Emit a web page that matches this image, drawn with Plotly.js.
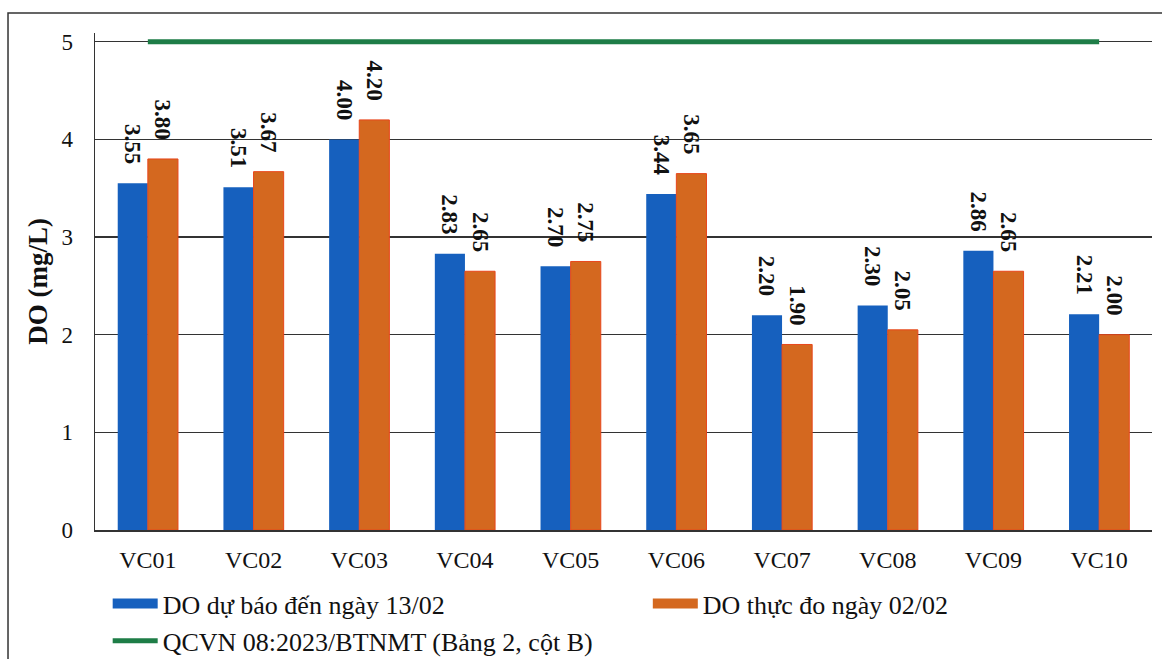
<!DOCTYPE html>
<html><head><meta charset="utf-8">
<script src="https://cdn.plot.ly/plotly-3.0.1.min.js"></script>
<style>html,body{margin:0;padding:0;background:#fff;}#chart{width:1162px;height:659px;}</style>
</head><body><div id="chart"></div>
<script>
var categories = ['VC01','VC02','VC03','VC04','VC05','VC06','VC07','VC08','VC09','VC10'];
var doForecast = [3.55,3.51,4.00,2.83,2.70,3.44,2.20,2.30,2.86,2.21];
var doMeasured = [3.80,3.67,4.20,2.65,2.75,3.65,1.90,2.05,2.65,2.00];
var standardValue = [5,5,5,5,5,5,5,5,5,5];
var names = ['DO dự báo đến ngày 13/02','DO thực đo ngày 02/02','QCVN 08:2023/BTNMT (Bảng 2, cột B)'];
var yTicks = [0,1,2,3,4,5];

var serif = 'Liberation Serif, DejaVu Serif, serif';
var blue = '#1660BE', orange = '#D4681F', orangeEdge = '#E8461B', green = '#1E7D47';
var pad = '\u00A0\u00A0\u2009';
var labelFont = {family:serif, size:23, color:'#111', weight:'bold'};

var traces = [
  {type:'bar', x:categories, y:doForecast, name:names[0], showlegend:false,
   marker:{color:blue, line:{width:0}},
   text:doForecast.map(function(v){return v.toFixed(2)+pad;}), textposition:'outside', textangle:90,
   constraintext:'none', textfont:labelFont, cliponaxis:false},
  {type:'bar', x:categories, y:doMeasured, name:names[1], showlegend:false,
   marker:{color:orange, line:{width:1, color:orangeEdge}},
   text:doMeasured.map(function(v){return v.toFixed(2)+pad;}), textposition:'outside', textangle:90,
   constraintext:'none', textfont:labelFont, cliponaxis:false},
  {type:'scatter', mode:'lines', x:categories, y:standardValue, name:names[2], showlegend:false,
   line:{color:green, width:5}},
  // legend proxies
  {type:'scatter', mode:'lines', x:[null], y:[null], name:names[0], line:{color:blue, width:10}, legend:'legend'},
  {type:'scatter', mode:'lines', x:[null], y:[null], name:names[1], line:{color:orange, width:10}, legend:'legend2'},
  {type:'scatter', mode:'lines', x:[null], y:[null], name:names[2], line:{color:green, width:5}, legend:'legend3'}
];

var legendBase = {orientation:'h', xanchor:'left', yanchor:'top', itemwidth:45,
                  font:{family:serif, size:26, color:'#111'}, bgcolor:'rgba(0,0,0,0)'};
function leg(x, y){ var o = JSON.parse(JSON.stringify(legendBase)); o.x = x; o.y = y; return o; }

var layout = {
  width:1162, height:659,
  margin:{l:95, r:10, t:33, b:129, autoexpand:false},
  paper_bgcolor:'#fff', plot_bgcolor:'#fff',
  barmode:'group', bargap:0.43, bargroupgap:0,
  font:{family:serif, color:'#111'},
  showlegend:true,
  legend:leg(0.012, -0.101),
  legend2:leg(0.523, -0.101),
  legend3:leg(0.012, -0.176),
  xaxis:{type:'category', range:[-0.5,9.5], showgrid:false, zeroline:false,
         showline:true, linecolor:'#333', linewidth:1.5,
         ticks:'outside', ticklen:8, tickcolor:'rgba(0,0,0,0)',
         tickfont:{family:serif, size:24, color:'#111'}},
  yaxis:{range:[0,5.09], tickvals:yTicks, ticktext:yTicks.map(String),
         showgrid:true, gridcolor:'#333', gridwidth:1.2, zeroline:false,
         showline:true, linecolor:'#333', linewidth:1.5,
         ticks:'outside', ticklen:16, tickcolor:'rgba(0,0,0,0)',
         tickfont:{family:serif, size:23, color:'#111'},
         title:{text:'DO (mg/L)', font:{family:serif, size:27, color:'#111', weight:'bold'}, standoff:6}},
  shapes:[{type:'rect', xref:'paper', yref:'paper', x0:-0.0823, x1:1.05, y0:-0.4, y1:1.0402,
           line:{color:'#333', width:1.5}, fillcolor:'rgba(0,0,0,0)', layer:'below'}]
};

Plotly.newPlot('chart', traces, layout, {displayModeBar:false, staticPlot:true});
</script></body></html>
